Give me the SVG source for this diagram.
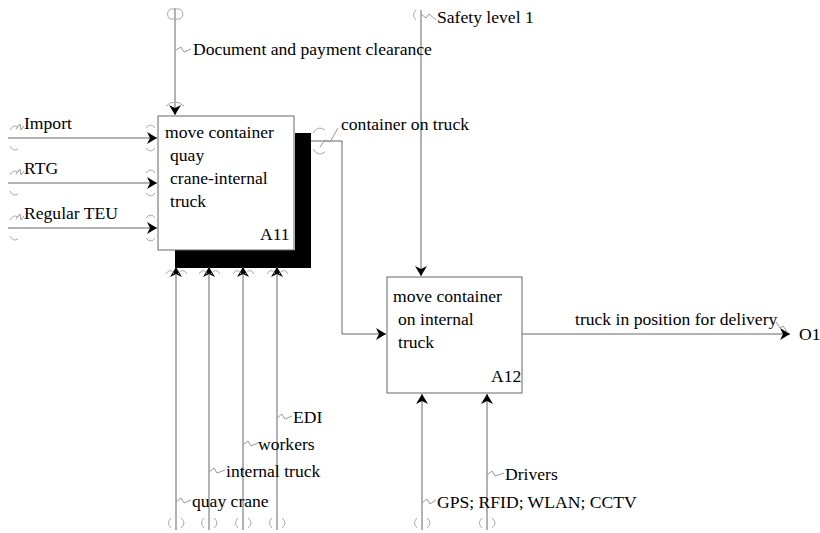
<svg xmlns="http://www.w3.org/2000/svg" width="820" height="533" viewBox="0 0 820 533">
<style>
.ln{stroke:#666;stroke-width:1;fill:none}
.box{fill:#fff;stroke:#666;stroke-width:1}
.t{font-family:"Liberation Serif","Times New Roman",serif;font-size:17.6px;fill:#000}
.tun{stroke:#aaa;stroke-width:1;fill:none}
.sq{stroke:#999;stroke-width:1;fill:none}
</style>
<defs>
<marker id="ah" markerWidth="12" markerHeight="12" refX="10" refY="6" orient="auto" markerUnits="userSpaceOnUse">
<path d="M0,0 L10,6 L0,12 L3,6 Z" fill="#000"/>
</marker>
</defs>
<rect width="820" height="533" fill="#fff"/>

<g id="A11">
<path d="M295,133 H311 V268 H175 V250 H295 Z" fill="#000"/>
<rect class="box" x="158" y="116" width="136" height="134"/>
<text class="t" x="165" y="138">move container</text>
<text class="t" x="170" y="161">quay</text>
<text class="t" x="170" y="184">crane-internal</text>
<text class="t" x="170" y="207">truck</text>
<text class="t" x="260" y="240">A11</text>
</g>

<g id="A12">
<rect class="box" x="387" y="277" width="135" height="116"/>
<text class="t" x="393" y="302">move container</text>
<text class="t" x="398" y="325">on internal</text>
<text class="t" x="398" y="348">truck</text>
<text class="t" x="491" y="382">A12</text>
</g>

<g id="connectors">
<line class="ln" x1="8" y1="138" x2="157" y2="138" marker-end="url(#ah)"/>
<line class="ln" x1="8" y1="183" x2="157" y2="183" marker-end="url(#ah)"/>
<line class="ln" x1="8" y1="228" x2="157" y2="228" marker-end="url(#ah)"/>
<line class="ln" x1="175" y1="8" x2="175" y2="115" marker-end="url(#ah)"/>
<line class="ln" x1="421" y1="10" x2="421" y2="276" marker-end="url(#ah)"/>
<polyline class="ln" points="311,141 342,141 342,334 386,334" marker-end="url(#ah)"/>
<line class="ln" x1="522" y1="334" x2="790" y2="334" marker-end="url(#ah)"/>
<line class="ln" x1="176" y1="530" x2="176" y2="267" marker-end="url(#ah)"/>
<line class="ln" x1="209" y1="530" x2="209" y2="267" marker-end="url(#ah)"/>
<line class="ln" x1="243" y1="530" x2="243" y2="267" marker-end="url(#ah)"/>
<line class="ln" x1="277" y1="530" x2="277" y2="267" marker-end="url(#ah)"/>
<line class="ln" x1="422" y1="530" x2="422" y2="394" marker-end="url(#ah)"/>
<line class="ln" x1="487" y1="530" x2="487" y2="394" marker-end="url(#ah)"/>

<path class="tun" d="M10,130 Q13,124 18,127 M10,146 Q13,152 18,149"/>
<path class="tun" d="M10,175 Q13,169 18,172 M10,191 Q13,197 18,194"/>
<path class="tun" d="M10,220 Q13,214 18,217 M10,236 Q13,242 18,239"/>
<path class="tun" d="M146,128 Q151,122 155,128 M146,148 Q151,154 155,148"/>
<path class="tun" d="M146,173 Q151,167 155,173 M146,193 Q151,199 155,193"/>
<path class="tun" d="M146,218 Q151,212 155,218 M146,238 Q151,244 155,238"/>
<path class="tun" d="M170,9 Q165,14 170,19 M180,9 Q186,14 180,19 M170,9 H180 M170,19 H180"/>
<path class="tun" d="M166,106 Q175,98 184,106"/>
<path class="tun" d="M416,10 Q411,15 416,20"/>
<path class="tun" d="M313,133 Q318,125 325,130 M313,149 Q318,157 325,152"/>
<path class="tun" d="M171,518 Q166,523 171,528 M181,518 Q187,523 181,528"/>
<path class="tun" d="M204,518 Q199,523 204,528 M214,518 Q220,523 214,528"/>
<path class="tun" d="M238,518 Q233,523 238,528 M248,518 Q254,523 248,528"/>
<path class="tun" d="M272,518 Q267,523 272,528 M282,518 Q288,523 282,528"/>
<path class="tun" d="M417,518 Q412,523 417,528 M427,518 Q433,523 427,528"/>
<path class="tun" d="M482,518 Q477,523 482,528 M492,518 Q498,523 492,528"/>
<path class="tun" d="M166,274 Q170,267 174,274 M178,274 Q183,267 187,274"/>
<path class="tun" d="M199,274 Q203,267 207,274 M211,274 Q216,267 220,274"/>
<path class="tun" d="M233,274 Q237,267 241,274 M245,274 Q250,267 254,274"/>
<path class="tun" d="M267,274 Q271,267 275,274 M279,274 Q284,267 288,274"/>

<polyline class="sq" points="176,50 181,47 184,52 191,49"/>
<polyline class="sq" points="421,14 426,18 429,14 436,20"/>
<polyline class="sq" points="320,147 325,140 330,142 338,128"/>
<polyline class="sq" points="16,129 20,124 21,130 24,126"/>
<polyline class="sq" points="16,174 20,169 21,175 24,171"/>
<polyline class="sq" points="16,219 20,214 21,220 24,216"/>
<polyline class="sq" points="277,418 282,414 285,419 292,416"/>
<polyline class="sq" points="243,445 248,441 251,446 258,443"/>
<polyline class="sq" points="209,472 214,468 217,473 225,470"/>
<polyline class="sq" points="176,502 181,498 184,503 191,500"/>
<polyline class="sq" points="487,475 492,471 495,476 504,473"/>
<polyline class="sq" points="422,503 427,499 430,504 436,500"/>
<polyline class="sq" points="776,322 780,328 783,326 788,333"/>
</g>

<g id="labels">
<text class="t" x="193" y="55">Document and payment clearance</text>
<text class="t" x="437" y="23">Safety level 1</text>
<text class="t" x="341" y="130">container on truck</text>
<text class="t" x="24" y="129">Import</text>
<text class="t" x="24" y="174">RTG</text>
<text class="t" x="24" y="219">Regular TEU</text>
<text class="t" x="293" y="423">EDI</text>
<text class="t" x="258" y="450">workers</text>
<text class="t" x="226" y="477">internal truck</text>
<text class="t" x="192" y="507">quay crane</text>
<text class="t" x="505" y="480">Drivers</text>
<text class="t" x="437" y="508">GPS; RFID; WLAN; CCTV</text>
<text class="t" x="575" y="325">truck in position for delivery</text>
<text class="t" x="799" y="340">O1</text>
</g>
</svg>
